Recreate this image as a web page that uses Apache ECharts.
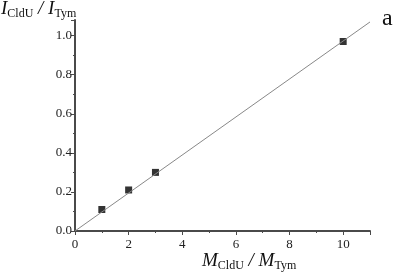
<!DOCTYPE html>
<html>
<head>
<meta charset="utf-8">
<style>
  html, body { margin: 0; padding: 0; background: #fff; }
  #chart { width: 395px; height: 273px; }
</style>
<script src="https://cdn.jsdelivr.net/npm/echarts@6/dist/echarts.min.js"></script>
</head>
<body>
<div id="chart"></div>
<script>
// measured points (ratio of masses vs ratio of intensities)
const ratioM = [1, 2, 3, 10];
const ratioI = [0.11, 0.21, 0.30, 0.97];
// fitted line, end points
const fitX = [0, 11];
const fitY = [0, 1.07];

const serif = "Liberation Serif";
const myChart = echarts.init(document.getElementById("chart"));

const axisCommon = {
  axisLine: { show: true, onZero: false, lineStyle: { color: "#4a4a4a", width: 2 } },
  axisTick: { show: true, inside: false, length: 4, lineStyle: { color: "#4a4a4a", width: 1 } },
  minorTick: { show: true, splitNumber: 2, length: 2, lineStyle: { color: "#4a4a4a", width: 1 } },
  splitLine: { show: false },
  axisLabel: { color: "#222", fontFamily: serif, fontSize: 13, margin: 3 },
};

// rich text styles for the axis titles
const titleRich = {
  i: { fontFamily: serif, fontStyle: "italic", fontSize: 19, fill: "#111", verticalAlign: "bottom" },
  s: { fontFamily: serif, fontSize: 12, fill: "#111", verticalAlign: "bottom", padding: [0, 0, -2, 0] },
};

myChart.setOption({
  animation: false,
  grid: { left: 75, right: 25, top: 20, bottom: 42 },
  xAxis: {
    type: "value",
    min: 0,
    max: 11,
    interval: 2,
    ...axisCommon,
    axisLabel: { ...axisCommon.axisLabel, showMaxLabel: false, margin: 7 },
  },
  yAxis: {
    type: "value",
    min: 0,
    max: 1.08,
    interval: 0.2,
    ...axisCommon,
    axisLabel: {
      ...axisCommon.axisLabel,
      showMaxLabel: false,
      formatter: (v) => v.toFixed(1),
    },
  },
  series: [
    {
      type: "line",
      data: fitX.map((x, i) => [x, fitY[i]]),
      symbol: "none",
      lineStyle: { color: "#888", width: 1 },
      silent: true,
    },
    {
      type: "scatter",
      data: ratioM.map((x, i) => [x, ratioI[i]]),
      symbol: "rect",
      symbolSize: 7,
      itemStyle: { color: "#000" },
    },
  ],
  graphic: [
    {
      type: "text",
      left: 1,
      top: -1,
      style: { text: "{i|I}{s|CldU}{i| / I}{s|Tym}", rich: titleRich },
    },
    {
      type: "text",
      left: 202,
      top: 251,
      style: { text: "{i|M}{s|CldU}{i| / M}{s|Tym}", rich: titleRich },
    },
    {
      type: "text",
      left: 382,
      top: 7,
      style: { text: "a", fontFamily: serif, fontSize: 24, fill: "#111" },
    },
  ],
});
</script>
</body>
</html>
